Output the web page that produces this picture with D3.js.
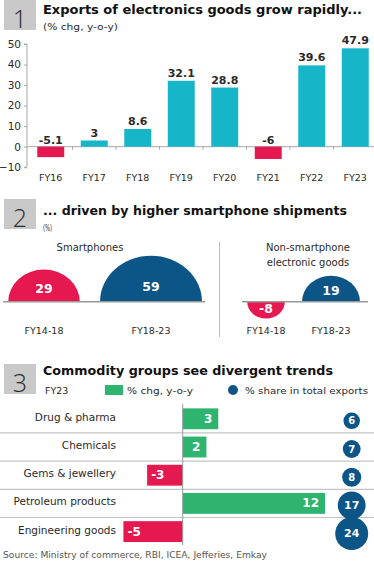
<!DOCTYPE html>
<html><head><meta charset="utf-8">
<script src="https://cdn.jsdelivr.net/npm/d3@7"></script>
<style>
body{margin:0;background:#fff;}
svg{display:block;font-family:"DejaVu Sans",sans-serif;}
</style></head>
<body><svg id="c" width="374" height="561"></svg>
<script>
// ---- data ----
const years = ["FY16","FY17","FY18","FY19","FY20","FY21","FY22","FY23"];
const exportGrowth = [-5.1,3,8.6,32.1,28.8,-6,39.6,47.9];
const yTicks = [-10,0,10,20,30,40,50];
const periods = ["FY14-18","FY18-23"];
const smartphones = [29,59];
const nonSmartphones = [-8,19];
const commodities = ["Drug & pharma","Chemicals","Gems & jewellery","Petroleum products","Engineering goods"];
const commodityChg = [3,2,-3,12,-5];
const commodityShare = [6,7,8,17,24];
const titles = ["Exports of electronics goods grow rapidly...","... driven by higher smartphone shipments","Commodity groups see divergent trends"];
const source = "Source: Ministry of commerce, RBI, ICEA, Jefferies, Emkay";

const TEAL="#16b5c8", RED="#e5194f", BLUE="#0b5587", GREEN="#2fb46f", DARK="#2a2a2a", GRAY="#a8a8a8";
const svg = d3.select("#c");

// ---- headers ----
function header(num, y0, title, tl, tb, sub, sl, sb){
  svg.append("rect").attr("x",4).attr("y",y0).attr("width",32).attr("height",30).attr("fill","#c9c9c9");
  svg.append("text").attr("x",20).attr("y",y0+28).attr("text-anchor","middle").attr("font-size",25)
    .attr("font-family","Open Sans, sans-serif").attr("font-weight",300).attr("fill",DARK).text(num);
  svg.append("text").attr("x",43).attr("y",tb).attr("font-size",12.5).attr("font-weight",700).attr("fill","#111")
    .attr("textLength",tl).attr("lengthAdjust","spacingAndGlyphs").text(title);
  if(sub){
    svg.append("text").attr("x",43).attr("y",sb).attr("font-size",9).attr("fill",DARK)
      .attr("textLength",sl).attr("lengthAdjust","spacingAndGlyphs").text(sub);
  }
}
header("1",0,titles[0],319,14,"(% chg, y-o-y)",75,30);
header("2",199,titles[1],304,215,"(%)",9,231);
header("3",364,titles[2],290,375,null);

// ---- panel 1 ----
const x1 = d3.scaleBand().domain(years).range([29,377]).paddingInner(0.38).paddingOuter(0.19);
const y1 = d3.scaleLinear().domain([-10,50]).range([167.2,44]);
const yAxis = d3.axisLeft(y1).tickValues(yTicks).tickSize(3).tickPadding(3);
const ga = svg.append("g").attr("transform","translate(27,0)").call(yAxis);
ga.select(".domain").attr("stroke",GRAY).attr("d",`M-3,${y1(-10)}H0V${y1(50)}H-3`);
ga.selectAll(".tick line").attr("stroke",GRAY);
ga.selectAll(".tick text").attr("font-size",10.5).attr("fill",DARK).attr("font-family","DejaVu Sans, sans-serif");

svg.append("line").attr("x1",27).attr("x2",374).attr("y1",y1(0)).attr("y2",y1(0)).attr("stroke",GRAY).attr("stroke-width",1);
svg.selectAll(".bt").data(years.slice(1)).enter().append("line")
  .attr("x1",d=>x1(d)-x1.step()*x1.paddingInner()/2).attr("x2",d=>x1(d)-x1.step()*x1.paddingInner()/2)
  .attr("y1",y1(0)).attr("y2",y1(0)+3).attr("stroke",GRAY);

svg.selectAll(".b1").data(exportGrowth).enter().append("rect")
  .attr("x",(d,i)=>x1(years[i])).attr("width",x1.bandwidth())
  .attr("y",d=>y1(Math.max(0,d))).attr("height",d=>Math.abs(y1(d)-y1(0)))
  .attr("fill",d=>d<0?RED:TEAL);
svg.selectAll(".l1").data(exportGrowth).enter().append("text")
  .attr("x",(d,i)=>x1(years[i])+x1.bandwidth()/2)
  .attr("y",d=>d<0?y1(0)-3:y1(d)-4)
  .attr("text-anchor","middle").attr("font-size",11).attr("font-weight",700).attr("fill",DARK)
  .text(d=>d);
svg.selectAll(".c1").data(years).enter().append("text")
  .attr("x",d=>x1(d)+x1.bandwidth()/2).attr("y",181)
  .attr("text-anchor","middle").attr("font-size",9.5).attr("fill",DARK).text(d=>d);

// ---- panel 2 ----
const base2 = 301.7;
const rS = d3.scaleSqrt().domain([0,59]).range([0,51]);
const yScaleFactor = 0.9;
const periodColor = d3.scaleOrdinal().domain(periods).range([RED,BLUE]);
const groups = [
  {name:["Smartphones"], vals:smartphones, xs:d3.scalePoint().domain(periods).range([44,151]), line:[3,205], lx:90},
  {name:["Non-smartphone","electronic goods"], vals:nonSmartphones, xs:d3.scalePoint().domain(periods).range([266,331]), line:[242,368], lx:308}
];
groups.forEach(g=>{
  g.name.forEach((n,i)=>{
    svg.append("text").attr("x",g.lx).attr("y",251+i*14.5).attr("text-anchor","middle")
      .attr("font-size",10).attr("fill",DARK).text(n);
  });
  const gg = svg.append("g");
  g.vals.forEach((v,i)=>{
    const r = rS(Math.abs(v));
    const arc = d3.arc().innerRadius(0).outerRadius(r)
      .startAngle(v>=0?-Math.PI/2:Math.PI/2).endAngle(v>=0?Math.PI/2:3*Math.PI/2);
    gg.append("path").attr("d",arc())
      .attr("transform",`translate(${g.xs(periods[i])},${base2}) scale(1,${yScaleFactor})`)
      .attr("fill",periodColor(periods[i]));
    const ry = r*yScaleFactor;
    const off = Math.min(15, ry*0.42);
    gg.append("text").attr("x",g.xs(periods[i])).attr("y",base2+(v<0?off:-off))
      .attr("dominant-baseline","central").attr("text-anchor","middle")
      .attr("font-size",12.5).attr("font-weight",700).attr("fill","#fff").text(v);
    svg.append("text").attr("x",g.xs(periods[i])).attr("y",334).attr("text-anchor","middle")
      .attr("font-size",9.5).attr("fill",DARK).text(periods[i]);
  });
  gg.append("line").attr("x1",g.line[0]).attr("x2",g.line[1]).attr("y1",base2).attr("y2",base2)
    .attr("stroke","#999").attr("stroke-width",1.5);
});
svg.append("line").attr("x1",219.5).attr("x2",219.5).attr("y1",242).attr("y2",337).attr("stroke","#bbb");

// ---- panel 3 legend ----
svg.append("text").attr("x",45).attr("y",393.5).attr("font-size",9.5).attr("fill",DARK).text("FY23");
svg.append("rect").attr("x",105).attr("y",385).attr("width",18).attr("height",10).attr("fill",GREEN);
svg.append("text").attr("x",127).attr("y",393.5).attr("font-size",9.5).attr("fill",DARK)
  .attr("textLength",66).attr("lengthAdjust","spacingAndGlyphs").text("% chg, y-o-y");
svg.append("circle").attr("cx",233).attr("cy",390).attr("r",5).attr("fill",BLUE);
svg.append("text").attr("x",245).attr("y",393.5).attr("font-size",9.5).attr("fill",DARK)
  .attr("textLength",123).attr("lengthAdjust","spacingAndGlyphs").text("% share in total exports");

// ---- panel 3 ----
const y3 = d3.scaleBand().domain(commodities).range([404.7,545.7]).paddingInner(0.26).paddingOuter(0.13);
const x3 = d3.scaleLinear().domain([0,12]).range([182.7,325]);
const rShare = d3.scaleSqrt().domain([0,24]).range([0,16.5]);
const rowStart = d => y3(d)-y3.step()*y3.paddingInner()/2;

svg.selectAll(".sep").data(commodities.slice(1)).enter().append("line")
  .attr("x1",0).attr("x2",374).attr("y1",d=>rowStart(d)).attr("y2",d=>rowStart(d))
  .attr("stroke","#c4c4c4").attr("stroke-width",1.2);

svg.selectAll(".b3").data(commodityChg).enter().append("rect")
  .attr("x",d=>x3(Math.min(0,d))).attr("width",d=>Math.abs(x3(d)-x3(0)))
  .attr("y",(d,i)=>y3(commodities[i])).attr("height",y3.bandwidth())
  .attr("fill",d=>d<0?RED:GREEN);
svg.append("line").attr("x1",x3(0)).attr("x2",x3(0)).attr("y1",404).attr("y2",545).attr("stroke","#999");

svg.selectAll(".l3").data(commodityChg).enter().append("text")
  .attr("x",d=>d<0?x3(d)+4:x3(d)-6)
  .attr("y",(d,i)=>y3(commodities[i])+y3.bandwidth()/2)
  .attr("dominant-baseline","central").attr("text-anchor",d=>d<0?"start":"end")
  .attr("font-size",12).attr("font-weight",700).attr("fill","#fff").text(d=>d);

svg.selectAll(".c3").data(commodities).enter().append("text")
  .attr("x",116).attr("y",d=>y3(d)+y3.bandwidth()/2-2)
  .attr("dominant-baseline","central").attr("text-anchor","end")
  .attr("font-size",10.5).attr("fill",DARK).text(d=>d);

svg.selectAll(".s3").data(commodityShare).enter().append("circle")
  .attr("cx",351.7).attr("cy",(d,i)=>y3(commodities[i])+y3.bandwidth()/2+2)
  .attr("r",d=>rShare(d)).attr("fill",BLUE);
svg.selectAll(".st3").data(commodityShare).enter().append("text")
  .attr("x",351.7).attr("y",(d,i)=>y3(commodities[i])+y3.bandwidth()/2+2)
  .attr("dominant-baseline","central").attr("text-anchor","middle")
  .attr("font-size",d=>d>=10?11:10).attr("font-weight",700).attr("fill","#fff").text(d=>d);

svg.append("text").attr("x",3).attr("y",558).attr("font-size",9).attr("fill","#555")
  .attr("textLength",264).attr("lengthAdjust","spacingAndGlyphs").text(source);
</script></body></html>
